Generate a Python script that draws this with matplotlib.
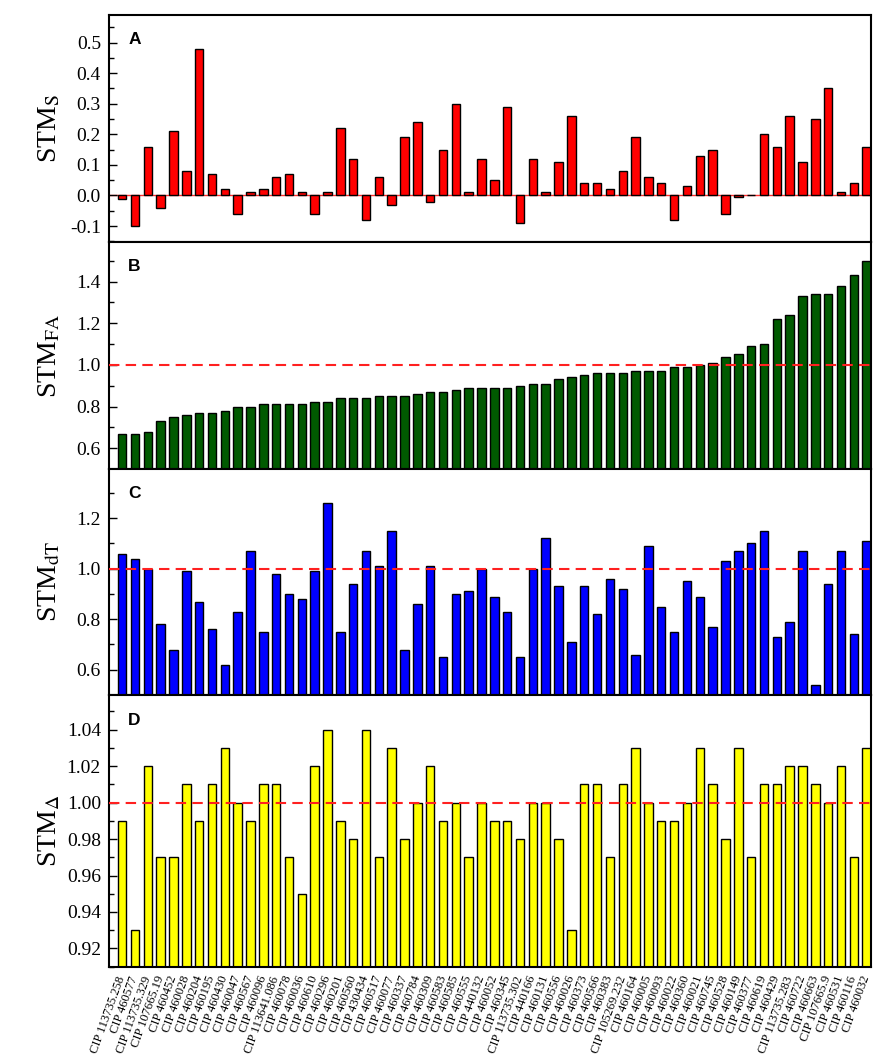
import matplotlib
matplotlib.use("Agg")
import matplotlib.pyplot as plt
from matplotlib.ticker import MultipleLocator
import numpy as np

plt.rcParams['font.family'] = ['Liberation Serif', 'DejaVu Serif']
plt.rcParams['mathtext.fontset'] = 'stix'

genotypes = ["CIP 113735.258", "CIP 460577", "CIP 113735.329", "CIP 107665.19", "CIP 460452",
             "CIP 460028", "CIP 460204", "CIP 460195", "CIP 460430", "CIP 460047",
             "CIP 460567", "CIP 460096", "CIP 113641.086", "CIP 460078", "CIP 460036",
             "CIP 460610", "CIP 460296", "CIP 460201", "CIP 460560", "CIP 430434",
             "CIP 460517", "CIP 460077", "CIP 460337", "CIP 460784", "CIP 460309",
             "CIP 460583", "CIP 460585", "CIP 460555", "CIP 440132", "CIP 460052",
             "CIP 460345", "CIP 113735.302", "CIP 440166", "CIP 460131", "CIP 460556",
             "CIP 460026", "CIP 460373", "CIP 460566", "CIP 460383", "CIP 105269.232",
             "CIP 460164", "CIP 460005", "CIP 460093", "CIP 460022", "CIP 460360",
             "CIP 460021", "CIP 460745", "CIP 460528", "CIP 460149", "CIP 460377",
             "CIP 460619", "CIP 460429", "CIP 113735.283", "CIP 460722", "CIP 460663",
             "CIP 107665.9", "CIP 460531", "CIP 460116", "CIP 460032"]

stm_s = [-0.01, -0.10, 0.16, -0.04, 0.21, 0.08, 0.48, 0.07, 0.02, -0.06,
         0.01, 0.02, 0.06, 0.07, 0.01, -0.06, 0.01, 0.22, 0.12, -0.08,
         0.06, -0.03, 0.19, 0.24, -0.02, 0.15, 0.30, 0.01, 0.12, 0.05,
         0.29, -0.09, 0.12, 0.01, 0.11, 0.26, 0.04, 0.04, 0.02, 0.08,
         0.19, 0.06, 0.04, -0.08, 0.03, 0.13, 0.15, -0.06, -0.005, 0.0,
         0.20, 0.16, 0.26, 0.11, 0.25, 0.35, 0.01, 0.04, 0.16]

stm_fa = [0.67, 0.67, 0.68, 0.73, 0.75, 0.76, 0.77, 0.77, 0.78, 0.80,
          0.80, 0.81, 0.81, 0.81, 0.81, 0.82, 0.82, 0.84, 0.84, 0.84,
          0.85, 0.85, 0.85, 0.86, 0.87, 0.87, 0.88, 0.89, 0.89, 0.89,
          0.89, 0.90, 0.91, 0.91, 0.93, 0.94, 0.95, 0.96, 0.96, 0.96,
          0.97, 0.97, 0.97, 0.99, 0.99, 1.00, 1.01, 1.04, 1.05, 1.09,
          1.10, 1.22, 1.24, 1.33, 1.34, 1.34, 1.38, 1.43, 1.50]

stm_dt = [1.06, 1.04, 1.00, 0.78, 0.68, 0.99, 0.87, 0.76, 0.62, 0.83,
          1.07, 0.75, 0.98, 0.90, 0.88, 0.99, 1.26, 0.75, 0.94, 1.07,
          1.01, 1.15, 0.68, 0.86, 1.01, 0.65, 0.90, 0.91, 1.00, 0.89,
          0.83, 0.65, 1.00, 1.12, 0.93, 0.71, 0.93, 0.82, 0.96, 0.92,
          0.66, 1.09, 0.85, 0.75, 0.95, 0.89, 0.77, 1.03, 1.07, 1.10,
          1.15, 0.73, 0.79, 1.07, 0.54, 0.94, 1.07, 0.74, 1.11]

stm_delta = [0.99, 0.93, 1.02, 0.97, 0.97, 1.01, 0.99, 1.01, 1.03, 1.00,
             0.99, 1.01, 1.01, 0.97, 0.95, 1.02, 1.04, 0.99, 0.98, 1.04,
             0.97, 1.03, 0.98, 1.00, 1.02, 0.99, 1.00, 0.97, 1.00, 0.99,
             0.99, 0.98, 1.00, 1.00, 0.98, 0.93, 1.01, 1.01, 0.97, 1.01,
             1.03, 1.00, 0.99, 0.99, 1.00, 1.03, 1.01, 0.98, 1.03, 0.97,
             1.01, 1.01, 1.02, 1.02, 1.01, 1.00, 1.02, 0.97, 1.03]

panels = [
    dict(vals=stm_s, color='#ff0000', label='STM$_{\\mathrm{S}}$', letter='A',
         ylim=(-0.152, 0.59), major=0.1, minor=0.05, ref=0.0, fmt='%.1f'),
    dict(vals=stm_fa, color='#005a00', label='STM$_{\\mathrm{FA}}$', letter='B',
         ylim=(0.5, 1.59), major=0.2, minor=0.1, ref=1.0, fmt='%.1f'),
    dict(vals=stm_dt, color='#0000ff', label='STM$_{\\mathrm{dT}}$', letter='C',
         ylim=(0.5, 1.395), major=0.2, minor=0.1, ref=1.0, fmt='%.1f'),
    dict(vals=stm_delta, color='#ffff00', label='STM$_{\\Delta}$', letter='D',
         ylim=(0.91, 1.059), major=0.02, minor=0.01, ref=1.0, fmt='%.2f'),
]

fig = plt.figure(figsize=(8.74, 10.54), dpi=100)
W, H = 874, 1054
left_px, right_px = 109.3, 871
bounds = [(15, 242), (242, 469), (469, 695), (695, 966.7)]

x = np.arange(1, len(genotypes) + 1)

for i, (p, (top, bot)) in enumerate(zip(panels, bounds)):
    ax = fig.add_axes([left_px / W, 1 - bot / H, (right_px - left_px) / W, (bot - top) / H])
    ax.bar(x, p['vals'], width=0.66, color=p['color'], edgecolor='black', linewidth=1.0, zorder=2)
    if i == 0:
        ax.axhline(0.0, color='#ff3030', lw=1.0, zorder=1)
    else:
        ax.axhline(p['ref'], color='#ff2020', lw=1.5, dashes=(5, 3), zorder=3)
    ax.set_xlim(0, 59.34)
    ax.set_ylim(*p['ylim'])
    ax.yaxis.set_major_locator(MultipleLocator(p['major']))
    ax.yaxis.set_minor_locator(MultipleLocator(p['minor']))
    ax.yaxis.set_major_formatter(matplotlib.ticker.FormatStrFormatter(p['fmt']))
    ax.tick_params(axis='y', which='major', direction='in', length=6, width=1.0,
                   labelsize=14, pad=6)
    ax.tick_params(axis='y', which='minor', direction='in', length=3.5, width=1.0)
    ax.tick_params(axis='x', which='both', length=0)
    for s in ax.spines.values():
        s.set_linewidth(1.5)
    ax.set_ylabel(p['label'], fontsize=20)
    ax.yaxis.set_label_coords(-0.062, 0.5)
    ax.text(0.025, 0.89 if i < 3 else 0.905, p['letter'], transform=ax.transAxes,
            fontsize=12.5, fontweight='bold', family='Liberation Sans', va='center', ha='left')
    ax.set_xticks(x)
    if i < 3:
        ax.set_xticklabels([])
    else:
        ax.set_xticklabels(genotypes, rotation=70, ha='right', va='center',
                           rotation_mode='anchor', fontsize=9)
        ax.tick_params(axis='x', pad=7)

fig.savefig('out.png', dpi=100)
